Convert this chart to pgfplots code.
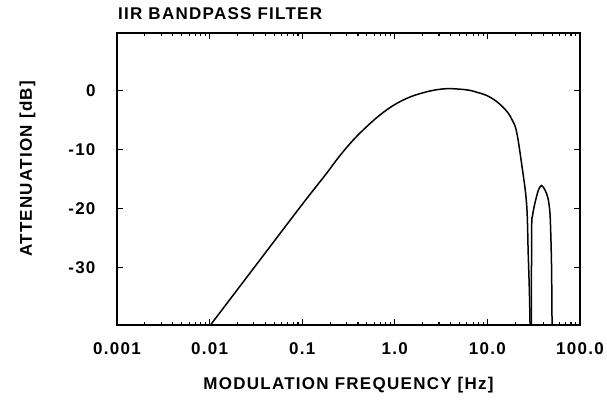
\documentclass[border=0pt]{standalone}
\usepackage{fontspec}
\setmainfont{Liberation Sans}
\newfontfamily\lbl[LetterSpace=7.5]{Liberation Sans}
\usepackage{pgfplots}
\pgfplotsset{compat=1.18}

\begin{document}
\begin{tikzpicture}
        \begin{axis}[
                scale only axis,
                width=463pt,
                height=292pt,
                at={(0,0)}, anchor=south west,
                xmode=log,
                xmin=0.001, xmax=100,
                ymin=-39.7, ymax=9.7,
                xtick={0.001,0.01,0.1,1,10,100},
                xticklabels={0.001,0.01,0.1,1.0,10.0,100.0},
                ytick={-30,-20,-10,0},
                minor xtick={},
                minor ytick={},
                /pgf/number format/assume math mode=true,
                tick align=inside,
                major tick length=6pt,
                axis line style={line width=1.4pt},
                tick style={line width=1.1pt, black},
                xticklabel style={font=\fontsize{17}{20}\selectfont\lbl\bfseries, yshift=-14pt},
                yticklabel style={font=\fontsize{17}{20}\selectfont\lbl\bfseries, xshift=-18pt},
                xlabel={MODULATION FREQUENCY [Hz]},
                ylabel={ATTENUATION [dB]},
                xlabel style={font=\fontsize{17}{20}\selectfont\lbl\bfseries, yshift=-16pt},
                ylabel style={font=\fontsize{17}{20}\selectfont\lbl\bfseries, yshift=26pt, xshift=10pt},
                clip=true
            ]
            % main band
            \addplot[black, line width=1.5pt, smooth, tension=0.6] coordinates {
                    (0.01,-39.9) (0.0316,-29.6) (0.1,-19.3) (0.178,-14.3) (0.251,-11.2)
                    (0.356,-8.4) (0.5,-6.1) (0.7,-4.1) (1.0,-2.4) (1.4,-1.25) (1.87,-0.56)
                    (2.6,0.0) (3.63,0.28) (5.0,0.2) (6.46,0.0) (7.8,-0.35)
                    (9.77,-0.85) (12.6,-1.9) (16.1,-3.5) (18.5,-5.0) (20.65,-7.0)
                    (23.4,-12.4) (26.5,-19.2) (27.6,-27.7) (28.6,-36) (29.4,-48)
                };
            % stopband side lobe
            \addplot[black, line width=1.5pt, smooth, tension=0.5] coordinates {
                    (29.7,-48) (30.05,-24) (30.6,-21.4) (31.6,-20.1) (32.7,-19.0) (35.5,-16.9)
                    (38.5,-16.1) (42,-16.9) (45.2,-18.3) (47.4,-20.8) (48.5,-25)
                    (49.4,-31) (50.2,-45)
                };
        \end{axis}
        \node[anchor=base west, font=\fontsize{17}{20}\selectfont\lbl\bfseries, inner sep=0pt] at (1pt,306pt) {IIR BANDPASS FILTER};
        \pgfresetboundingbox
        \path (-117pt,-75pt) rectangle (490pt,325pt);
\end{tikzpicture}
\end{document}
